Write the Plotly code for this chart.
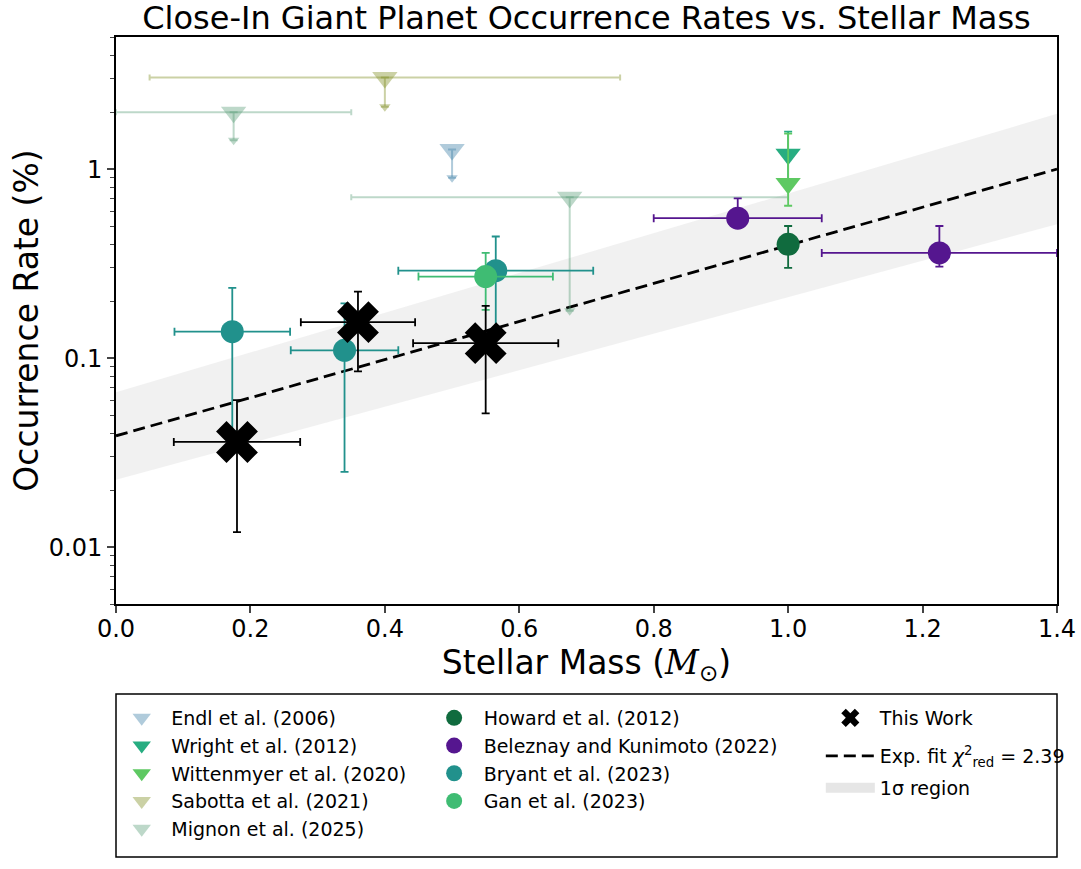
import plotly.graph_objects as go

# ---- data ----
# upper limits (triangles with downward arrows)
endl_x = [0.5]
endl_y = [1.27]
endl_tip = [0.90]

sabotta_x = [0.4]
sabotta_y = [3.05]
sabotta_xerr = [0.35]
sabotta_tip = [2.14]

mignon_x = [0.175, 0.675]
mignon_y = [2.0, 0.71]
mignon_xerr = [0.175, 0.325]
mignon_tip = [1.42, 0.178]

# measurements with triangle markers
wright_x = [1.0]
wright_y = [1.2]
wright_up = [0.38]
wright_lo = [0.38]

wittenmyer_x = [1.0]
wittenmyer_y = [0.84]
wittenmyer_up = [0.70]
wittenmyer_lo = [0.20]

# measurements with circles
howard_x = [1.0]
howard_y = [0.4]
howard_err = [0.1]

beleznay_x = [0.925, 1.225]
beleznay_xerr = [0.125, 0.175]
beleznay_y = [0.55, 0.36]
beleznay_up = [0.15, 0.14]
beleznay_lo = [0.06, 0.055]

bryant_x = [0.173, 0.34, 0.565]
bryant_xerr = [0.086, 0.080, 0.145]
bryant_y = [0.138, 0.11, 0.29]
bryant_err = [0.097, 0.085, 0.15]

gan_x = [0.55]
gan_xerr = [0.1]
gan_y = [0.27]
gan_err = [0.09]

# this work
work_x = [0.18, 0.36, 0.55]
work_xerr = [0.094, 0.085, 0.108]
work_y = [0.036, 0.155, 0.12]
work_yerr = [0.024, 0.07, 0.069]

# exponential fit and 1-sigma band (straight on log axis)
fit_x = [0.0, 1.4]
fit_y = [0.0388, 1.0]
band_hi = [0.066, 1.96]
band_lo = [0.0227, 0.511]

FONT = "DejaVu Sans"

fig = go.Figure()

# 1 sigma region as one closed polygon
fig.add_trace(go.Scatter(x=fit_x + fit_x[::-1], y=band_lo + band_hi[::-1],
                         mode="lines", line=dict(width=0), fill="toself",
                         fillcolor="rgba(150,150,150,0.13)", hoverinfo="skip",
                         showlegend=False))
# legend swatch for the band
fig.add_trace(go.Scatter(x=[None], y=[None], mode="lines",
                         line=dict(color="#e6e6e6", width=14),
                         name="1σ region", legend="legend5"))
fig.add_trace(go.Scatter(x=fit_x, y=fit_y, mode="lines",
                         line=dict(color="black", width=2.8, dash="12px,6px"),
                         name="Exp. fit <i>χ</i><sup>2</sup><sub>red</sub> = 2.39",
                         legend="legend4"))


def rgba(hexc, a):
    h = hexc.lstrip("#")
    return "rgba(%d,%d,%d,%s)" % (int(h[0:2], 16), int(h[2:4], 16), int(h[4:6], 16), a)


def limit(name, x, y, tip, base, xerr=None, rank=1):
    c = rgba(base, 0.4)
    lo = [a - b for a, b in zip(y, tip)]
    kw = {}
    if xerr is not None:
        kw["error_x"] = dict(type="data", array=xerr, color=c, thickness=2, width=3)
    fig.add_trace(go.Scatter(
        x=x, y=y, mode="markers", name=name, legendgroup=name, legendrank=rank,
        marker=dict(symbol="triangle-down", size=22, color=c, line=dict(width=0)),
        error_y=dict(type="data", symmetric=False, array=[0] * len(y), arrayminus=lo,
                     color=c, thickness=2, width=4),
        **kw))
    fig.add_trace(go.Scatter(
        x=x, y=tip, mode="markers", showlegend=False, legendgroup=name, hoverinfo="skip",
        marker=dict(symbol="triangle-down", size=10, color=c, line=dict(width=0))))


limit("Endl et al. (2006)", endl_x, endl_y, endl_tip, "#3a7ca5", rank=1)
limit("Sabotta et al. (2021)", sabotta_x, sabotta_y, sabotta_tip, "#7d8c1f", sabotta_xerr, rank=4)
limit("Mignon et al. (2025)", mignon_x, mignon_y, mignon_tip, "#5a9e78", mignon_xerr, rank=5)


def points(name, x, y, up, lo, color, symbol, xerr=None, legend="legend", rank=1, size=23):
    kw = {}
    if xerr is not None:
        kw["error_x"] = dict(type="data", array=xerr, color=color, thickness=1.8, width=4)
    fig.add_trace(go.Scatter(
        x=x, y=y, mode="markers", name=name, legend=legend, legendrank=rank,
        legendgroup=name,
        marker=dict(symbol=symbol, size=size, color=color, line=dict(width=0)),
        error_y=dict(type="data", symmetric=False, array=up, arrayminus=lo,
                     color=color, thickness=1.8, width=4),
        **kw))


points("Wright et al. (2012)", wright_x, wright_y, wright_up, wright_lo, "#27ad81",
       "triangle-down", rank=2, size=22)
points("Wittenmyer et al. (2020)", wittenmyer_x, wittenmyer_y, wittenmyer_up, wittenmyer_lo,
       "#5ec962", "triangle-down", rank=3, size=22)
points("Howard et al. (2012)", howard_x, howard_y, howard_err, howard_err, "#106b3e",
       "circle", legend="legend2", rank=1)
points("Beleznay and Kunimoto (2022)", beleznay_x, beleznay_y, beleznay_up, beleznay_lo,
       "#55168f", "circle", beleznay_xerr, legend="legend2", rank=2)
points("Bryant et al. (2023)", bryant_x, bryant_y, bryant_err, bryant_err, "#21918c",
       "circle", bryant_xerr, legend="legend2", rank=3)
points("Gan et al. (2023)", gan_x, gan_y, gan_err, gan_err, "#3fbc73",
       "circle", gan_xerr, legend="legend2", rank=4)
points("This Work", work_x, work_y, work_yerr, work_yerr, "black", "x", work_xerr,
       legend="legend3", rank=1, size=37)

# legend frame spanning the plot width
fig.add_shape(type="rect", xref="paper", yref="paper", x0=0, x1=1,
              y0=(604 - 857) / 567, y1=(604 - 694) / 567,
              line=dict(color="black", width=1.5), fillcolor="rgba(0,0,0,0)")

leg = dict(font=dict(family=FONT, size=19, color="black"), bgcolor="rgba(0,0,0,0)",
           yanchor="top", xanchor="left", itemwidth=49, traceorder="normal",
           tracegroupgap=0)


def top(px):
    return (604 - px) / 567


fig.update_layout(
    width=1081, height=869,
    margin=dict(l=116, r=24, t=37, b=265, autoexpand=False),
    paper_bgcolor="white", plot_bgcolor="white",
    font=dict(family=FONT, color="black"),
    title=dict(text="Close-In Giant Planet Occurrence Rates vs. Stellar Mass",
               x=0.5, xref="paper", y=1 - 18 / 869, yanchor="middle",
               font=dict(size=32, family=FONT)),
    xaxis=dict(range=[0, 1.4], tickvals=[0, 0.2, 0.4, 0.6, 0.8, 1.0, 1.2, 1.4],
               tickformat=".1f", ticks="outside", ticklen=7, tickwidth=1.5,
               tickfont=dict(size=24), showline=True, linewidth=2, linecolor="black",
               mirror=True, showgrid=False, zeroline=False, automargin=False,
               ticklabelstandoff=-5,
               title=dict(text="Stellar Mass (<span style='font-family:DejaVu Serif'>"
                               "<i>M</i></span><sub>⊙</sub>)",
                          font=dict(size=33), standoff=0)),
    yaxis=dict(type="log", range=[-2.30103, 0.69897], tickvals=[0.01, 0.1, 1],
               ticktext=["0.01", "0.1", "1"], ticks="outside", ticklen=7, tickwidth=1.5,
               minor=dict(ticks="outside", ticklen=4, tickwidth=1, dtick="D1"),
               tickfont=dict(size=24), showline=True, linewidth=2, linecolor="black",
               mirror=True, showgrid=False, zeroline=False, automargin=False,
               title=dict(text="Occurrence Rate (%)", font=dict(size=33), standoff=0)),
    legend=dict(leg, x=-0.004, y=top(699)),
    legend2=dict(leg, x=0.328, y=top(699)),
    legend3=dict(leg, x=0.749, y=top(699)),
    legend4=dict(leg, x=0.749, y=top(737)),
    legend5=dict(leg, x=0.749, y=top(769)),
)

fig.write_html("out.html", post_script="document.body.style.margin='0px';",
               config={"displayModeBar": False})
